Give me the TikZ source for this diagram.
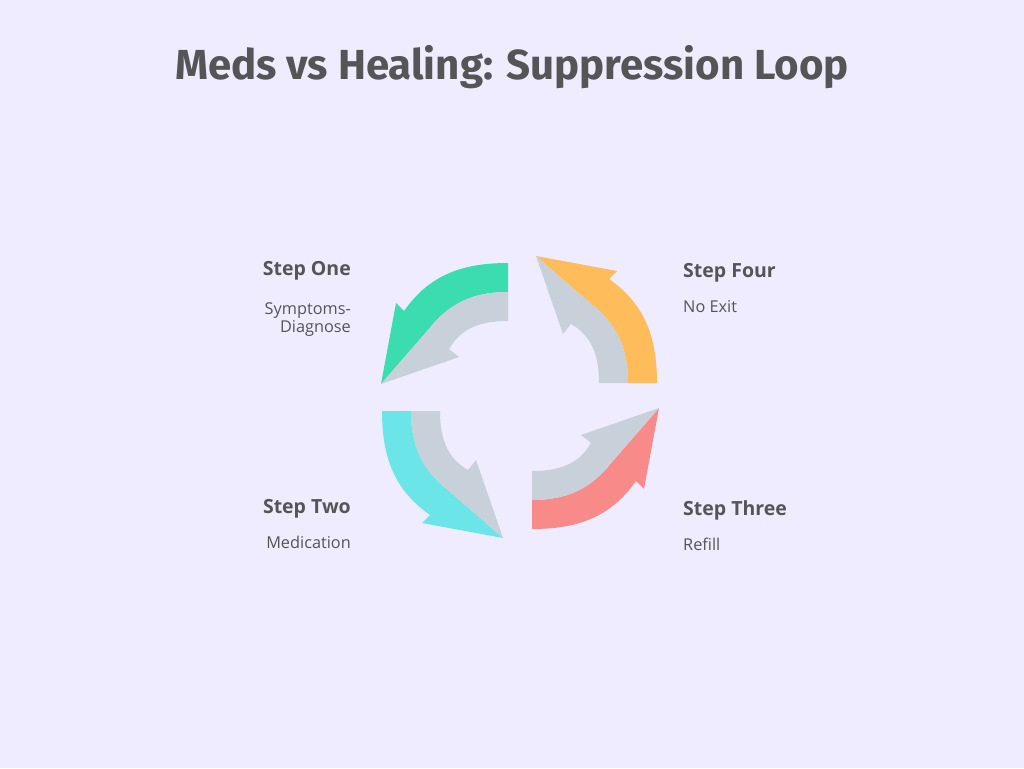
\documentclass[tikz,border=0pt]{standalone}
\usepackage{fontspec}
\setmainfont{Open Sans}
\newfontfamily\titlefont{Fira Sans}
\definecolor{bgcol}{HTML}{EEECFE}
\definecolor{txtgrey}{HTML}{555555}
\definecolor{shadegrey}{HTML}{C8D0DA}
\definecolor{arrgreen}{HTML}{3BDCB0}
\definecolor{arrorange}{HTML}{FFBC5A}
\definecolor{arrred}{HTML}{F88A8A}
\definecolor{arrcyan}{HTML}{6CE5E8}

\tikzset{
  steptitle/.style={font=\bfseries\fontsize{19.5}{23}\selectfont, text=txtgrey, inner sep=0pt},
  stepnote/.style={font=\fontsize{16.3}{17.5}\selectfont, text=txtgrey, inner sep=0pt},
  % one quarter of the loop, drawn as the right-hand piece (flat end at 0 deg, tip at 90 deg)
  pics/looparrow/.style={code={
      \fill[#1] (91,0) -- (120,0) to[out=90,in=-35] (72,104) -- (80,112) -- (-1,127)
        -- (53,80) to[out=-38,in=90] (91,0) -- cycle;
      \fill[shadegrey] (62,0) -- (91,0) to[out=90,in=-38] (53,80) -- (-1,127)
        -- (26,49) -- (34,59) to[out=-30,in=90] (62,0) -- cycle;
  }}
}

\begin{document}
\begin{tikzpicture}[x=1pt, y=1pt]
  % Background
  \fill[bgcol] (0,0) rectangle (1024,-768);

  % Title
  \node[font=\titlefont\bfseries\fontsize{42}{50}\selectfont, text=txtgrey, anchor=base] (title) at (512,-79) {Meds vs Healing: Suppression Loop};

  % Loop arrows
  \pic[rotate=90]  (one)   at (508,-383) {looparrow=arrgreen};
  \pic[rotate=180] (two)   at (502,-411) {looparrow=arrcyan};
  \pic[rotate=270] (three) at (532,-409) {looparrow=arrred};
  \pic[rotate=0]   (four)  at (537,-383) {looparrow=arrorange};

  % Step One
  \node[steptitle, anchor=base east] (onehead) at (351,-275) {Step One};
  \node[stepnote, anchor=base east, align=right] (onetext) at (351,-332) {Symptoms-\\Diagnose};

  % Step Two
  \node[steptitle, anchor=base east] (twohead) at (351,-513) {Step Two};
  \node[stepnote, anchor=base east] (twotext) at (351,-548) {Medication};

  % Step Three
  \node[steptitle, anchor=base west] (threehead) at (683,-515) {Step Three};
  \node[stepnote, anchor=base west] (threetext) at (683,-550) {Refill};

  % Step Four
  \node[steptitle, anchor=base west] (fourhead) at (683,-277) {Step Four};
  \node[stepnote, anchor=base west] (fourtext) at (683,-312) {No Exit};
\end{tikzpicture}
\end{document}
